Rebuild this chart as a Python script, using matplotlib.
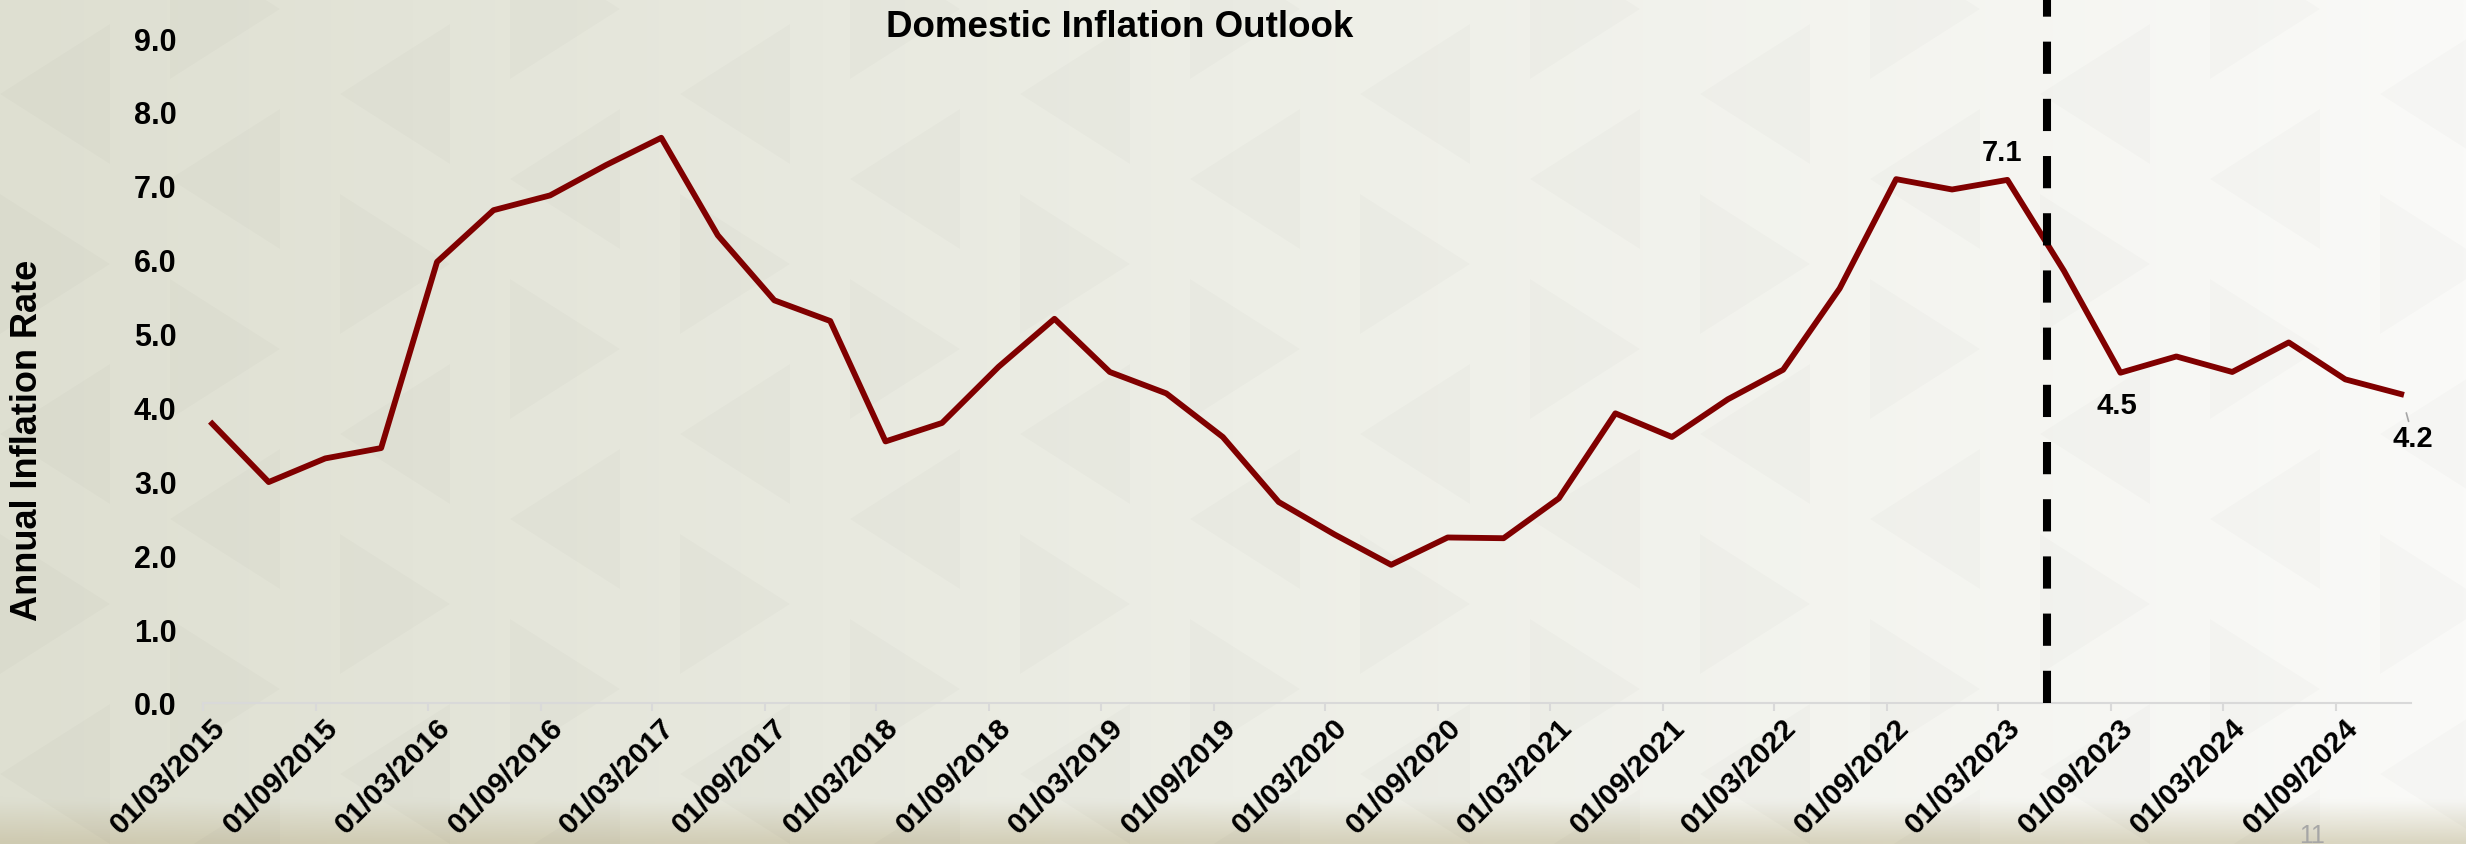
import numpy as np
import pandas as pd
import matplotlib
matplotlib.use('Agg')
import matplotlib.pyplot as plt
from matplotlib.patches import Polygon
from matplotlib.transforms import ScaledTranslation

# quarterly readings, plotted mid-month (Mar / Jun / Sep / Dec)
quarters = pd.date_range('2015-03-01', '2024-12-01', freq='QS-MAR') + pd.Timedelta(days=15)
inflation = [3.78, 2.99, 3.31, 3.45,
             5.97, 6.67, 6.87, 7.28,
             7.65, 6.33, 5.45, 5.17,
             3.54, 3.79, 4.55, 5.20,
             4.48, 4.19, 3.60, 2.72,
             2.28, 1.87, 2.24, 2.23,
             2.77, 3.92, 3.60, 4.11,
             4.51, 5.61, 7.09, 6.95,
             7.08, 5.85, 4.47, 4.69,
             4.48, 4.88, 4.38, 4.18]
tick_dates = pd.date_range('2015-03-01', '2024-09-01', freq='6MS')
tick_labels = [d.strftime('%d/%m/%Y') for d in tick_dates]
forecast_start = pd.Timestamp('2023-05-20')
labelled = {'7.1': 32, '4.5': 34, '4.2': 39}   # text -> index into inflation
y_ticks = np.arange(0, 9.5, 1.0)

plt.rcParams['font.family'] = ['Liberation Sans', 'DejaVu Sans']

fig = plt.figure(figsize=(24.66, 8.45), dpi=100)

# slide background: light beige gradient with faint triangles
bg = fig.add_axes([0, 0, 1, 1], zorder=-10)
W, H = 494, 169
xs = np.linspace(0, 1, W)
ys = np.linspace(0, 1, H)[:, None]
left = np.array([222, 223, 209]) / 255
mid = np.array([237, 238, 230]) / 255
right = np.array([250, 250, 248]) / 255
t = xs[:, None]
row = np.where(t < 0.5, left + (mid - left) * (t / 0.5), mid + (right - mid) * ((t - 0.5) / 0.5))
img = np.repeat(row[None, :, :], H, axis=0)
band = np.clip((ys - 0.95) / 0.05, 0, 1)[:, :, None]
band_col = np.array([205, 200, 174]) / 255 * (1 - t[None] * 0.5) + np.array([226, 222, 204]) / 255 * (t[None] * 0.5)
img = img * (1 - band * 0.9) + band_col * band * 0.9
bg.imshow(img, extent=[0, 1, 0, 1], aspect='auto', interpolation='bilinear')
for c in range(16):
    for r in range(-1, 7):
        x0 = c * 170 / 2466
        y0 = (r * 170 + (c % 2) * 85) / 845
        w = 110 / 2466
        h = 140 / 845
        if (r + c) % 2:
            pts = [(x0, y0), (x0, y0 + h), (x0 + w, y0 + h / 2)]
        else:
            pts = [(x0 + w, y0), (x0 + w, y0 + h), (x0, y0 + h / 2)]
        bg.add_patch(Polygon(pts, closed=True, facecolor='black', alpha=0.016, edgecolor='none'))
bg.set_xlim(0, 1)
bg.set_ylim(0, 1)
bg.axis('off')

ax = fig.add_axes([0.0823, 0.1669, 0.8954, 0.7869])
ax.set_facecolor('none')

ax.plot(quarters, inflation, color='#800000', lw=4.2, zorder=3)
ax.plot([forecast_start, forecast_start], [0, 9.6], color='black', lw=5.8,
        linestyle=(0, (4, 3.1)), clip_on=False, zorder=4)

for txt, i in labelled.items():
    if txt == '7.1':
        ax.annotate(txt, (quarters[i], inflation[i]), xytext=(-5, 28), textcoords='offset pixels',
                    ha='center', va='center', fontsize=21, fontweight='bold')
    elif txt == '4.5':
        ax.annotate(txt, (quarters[i], inflation[i]), xytext=(-4, -32), textcoords='offset pixels',
                    ha='center', va='center', fontsize=21, fontweight='bold')
    else:
        ax.annotate(txt, (quarters[i], inflation[i]), xytext=(12, -44), textcoords='offset pixels',
                    ha='center', va='center', fontsize=21, fontweight='bold',
                    arrowprops=dict(arrowstyle='-', color='#a6a6a6', lw=1.2, shrinkA=0, shrinkB=14))

ax.set_xlim(pd.Timestamp('2015-03-01'), pd.Timestamp('2025-01-01'))
ax.set_ylim(0, 9)
ax.set_yticks(y_ticks)
ax.set_yticklabels([f'{v:.1f}' for v in y_ticks])
ax.set_xticks(tick_dates)
ax.set_xticklabels(tick_labels, rotation=45, ha='right', va='top', rotation_mode='anchor')

for s in ['top', 'right', 'left']:
    ax.spines[s].set_visible(False)
ax.spines['bottom'].set_color('#d9d9d9')
ax.spines['bottom'].set_linewidth(1.5)
ax.tick_params(axis='x', length=6, width=1.5, color='#d9d9d9', direction='out', pad=1,
               labelsize=21.5)
ax.tick_params(axis='y', length=0, pad=19, labelsize=22)
for lbl in ax.get_xticklabels() + ax.get_yticklabels():
    lbl.set_fontweight('bold')
shift = ScaledTranslation(0.08, 0, fig.dpi_scale_trans)
for lbl in ax.get_xticklabels():
    lbl.set_transform(lbl.get_transform() + shift)

fig.text(1120 / 2466, 1 - 37 / 845, 'Domestic Inflation Outlook', ha='center', va='baseline',
         fontsize=26.5, fontweight='bold')
fig.text(28 / 2466, 0.479, 'Annual Inflation Rate', rotation=90, ha='center', va='center',
         fontsize=26, fontweight='bold')
fig.text(2312 / 2466, 2 / 845, '11', ha='center', va='baseline', fontsize=18, color='#a6a6a6')

fig.savefig('out.png', dpi=100)
